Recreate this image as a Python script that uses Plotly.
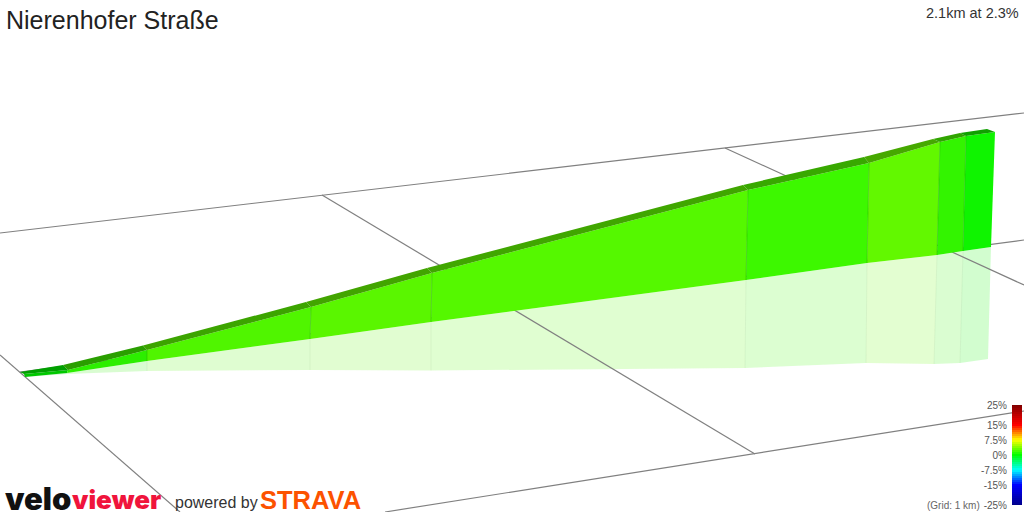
import plotly.graph_objects as go

# In picture units (axes run 0-1024 and 512-0)
ridge_x = [20, 63, 143, 306, 427, 743, 864, 933, 960, 987]
ridge_y = [372, 365, 345.5, 302, 268, 185, 157, 139, 133, 129]
top_x = [24, 68, 147, 311, 432, 748, 869, 940, 966, 995]
top_y = [374, 370, 350, 307, 273, 190, 163, 142, 136, 132]
base_x = [25, 67, 147, 310, 431, 746, 867, 937, 963, 991]
base_y = [377, 373, 361, 339, 322, 280, 263, 255, 251, 247]
shadow_x = [25, 67, 147, 310, 431, 745, 866, 934, 960, 988]
shadow_y = [377, 374, 371, 370, 370.5, 368, 363, 364, 363, 359]
face_colors = ["#00c800", "#2cee00", "#50f500", "#5af600", "#55f800",
               "#3df800", "#62f800", "#33f400", "#0ff400"]
strip_colors = ["#00a000", "#2a9e00", "#3ca400", "#42a400", "#40a600",
                "#38a800", "#46a800", "#30a400", "#10a000"]
shadow_colors = ["rgba(0,200,0,0.18)", "rgba(44,238,0,0.18)", "rgba(80,245,0,0.18)",
                 "rgba(90,246,0,0.18)", "rgba(85,248,0,0.18)", "rgba(61,248,0,0.18)",
                 "rgba(102,248,0,0.18)", "rgba(51,244,0,0.18)", "rgba(15,244,0,0.19)"]

grid_lines_x = [[0, 1024], [322, 755], [725, 1024], [0, 180], [385, 1024], [20, 1024]]
grid_lines_y = [[233, 113], [195, 454], [148, 285], [355, 512], [512, 411], [372, 240]]

scale_ticks = [25, 15, 7.5, 0, -7.5, -15, -25]
scale_labels = ["25%", "15%", "7.5%", "0%", "-7.5%", "-15%", "-25%"]
scale_ramp = list(range(-25, 26))
scale_colors = [[0, "#00008b"], [0.2, "#0000ff"], [0.35, "#00ffff"], [0.5, "#00ff00"],
                [0.65, "#ffff00"], [0.8, "#ff0000"], [1, "#800000"]]


def poly(xs, ys, color):
    return go.Scatter(x=xs + [xs[0]], y=ys + [ys[0]], mode="lines", fill="toself",
                      fillcolor=color, line=dict(width=0), hoverinfo="skip", showlegend=False)


def stroke(xs, ys, color, width):
    return go.Scatter(x=xs, y=ys, mode="lines", line=dict(color=color, width=width),
                      hoverinfo="skip", showlegend=False)


fig = go.Figure()
n = len(face_colors)

for i in range(n):
    fig.add_trace(poly([base_x[i], base_x[i + 1], shadow_x[i + 1], shadow_x[i]],
                       [base_y[i], base_y[i + 1], shadow_y[i + 1], shadow_y[i]], shadow_colors[i]))
for i in range(2, n):
    fig.add_trace(stroke([base_x[i], shadow_x[i]], [base_y[i], shadow_y[i]], "rgba(120,160,100,0.10)", 1))

for gx, gy in zip(grid_lines_x, grid_lines_y):
    fig.add_trace(stroke(gx, gy, "#808080", 1.2))

for i in range(n):
    fig.add_trace(poly([top_x[i], top_x[i + 1], base_x[i + 1], base_x[i]],
                       [top_y[i], top_y[i + 1], base_y[i + 1], base_y[i]], face_colors[i]))
    fig.add_trace(poly([ridge_x[i], ridge_x[i + 1], top_x[i + 1], top_x[i]],
                       [ridge_y[i], ridge_y[i + 1], top_y[i + 1], top_y[i]], strip_colors[i]))
for i in range(2, n):
    fig.add_trace(stroke([top_x[i], base_x[i]], [top_y[i], base_y[i]], "rgba(30,170,0,0.45)", 1))

fig.add_trace(go.Heatmap(z=[[v] for v in scale_ramp], y=scale_ramp, x=[0], xaxis="x2", yaxis="y2",
                         zmin=-25, zmax=25, colorscale=scale_colors, showscale=False, hoverinfo="skip"))

FONT = "Liberation Sans, Arial, sans-serif"
fig.update_layout(
    template="none",
    width=1024, height=512, margin=dict(l=0, r=0, t=0, b=0, pad=0, autoexpand=False),
    paper_bgcolor="white", plot_bgcolor="white", showlegend=False,
    xaxis=dict(range=[0, 1024], domain=[0, 1], visible=False, fixedrange=True, automargin=False),
    yaxis=dict(range=[512, 0], domain=[0, 1], visible=False, fixedrange=True, automargin=False),
    xaxis2=dict(domain=[1012 / 1024, 1022 / 1024], anchor="y2", visible=False, fixedrange=True, automargin=False),
    yaxis2=dict(domain=[7 / 512, 107 / 512], anchor="x2", range=[-25, 25], tickvals=scale_ticks,
                ticktext=scale_labels, showgrid=False, zeroline=False, showline=False, ticks="",
                ticklabelstandoff=4,
                tickfont=dict(family=FONT, size=10, color="#555555"), fixedrange=True, automargin=False),
)


def label(text, x, y, size, color, anchor="left", family=FONT, weight=None):
    fig.add_annotation(text=text, x=x, y=y, xref="x", yref="y", showarrow=False, xanchor=anchor,
                       yanchor="middle", align=anchor, borderpad=0, borderwidth=0,
                       font=dict(family=family, size=size, color=color, weight=weight))


label("Nierenhofer Straße", 6, 20, 25, "#222222")
label("2.1km at 2.3%", 1019, 13, 14.5, "#333333", anchor="right")
label("(Grid: 1 km)", 980, 505, 10, "#666666", anchor="right")
label("velo", 5, 498, 31, "#111111", family="Inter", weight=900)
label("viewer", 72, 499, 26, "#f0143c", family="Inter", weight=900)
label("powered by", 175, 502, 16, "#333333")
label("STRAVA", 260, 500, 25.5, "#fc5200", weight=700)

fig.write_html("out.html", config=dict(displayModeBar=False),
               post_script="document.body.style.margin='0';")
